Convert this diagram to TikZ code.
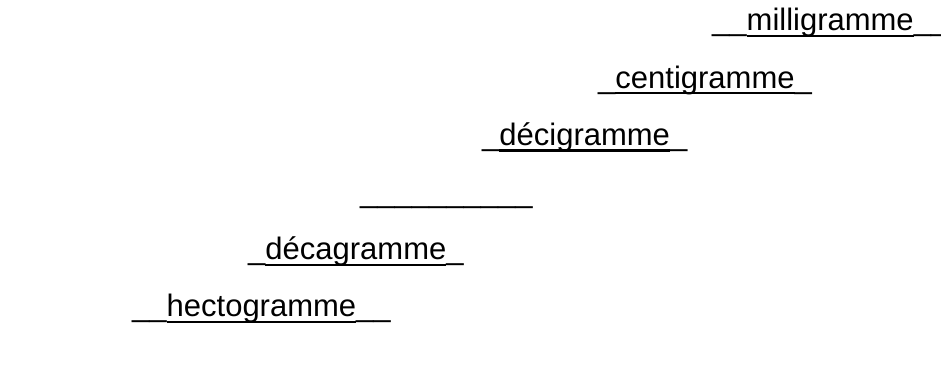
\documentclass[tikz,border=0pt]{standalone}
\usepackage{fontspec}
\setmainfont{Liberation Sans}

% underline at the height of the underscore glyph
\newsavebox{\wordbox}
\newcommand{\underword}[1]{\sbox{\wordbox}{#1}\rlap{\rule[-0.199em]{\wd\wordbox}{0.071em}}\usebox{\wordbox}}

\tikzset{
  unitline/.style={anchor=base west, inner sep=0pt, font=\fontsize{31bp}{37bp}\selectfont}
}

\begin{document}
\begin{tikzpicture}[x=1bp,y=-1bp]
      \useasboundingbox (0,0) rectangle (941,376);

        \node[unitline] (milli) at (712,30.9) {\_\_\underword{milligramme}\_\_};
        \node[unitline] (centi) at (598,88.1) {\_\underword{centigramme}\_};
        \node[unitline] (deci) at (482,145.4) {\_\underword{décigramme}\_};
        \node[unitline] (unit) at (360,202.5) {\_\_\_\_\_\_\_\_\_\_};
        \node[unitline] (deca) at (248,259.7) {\_\underword{décagramme}\_};
        \node[unitline] (hecto) at (132,316.9) {\_\_\underword{hectogramme}\_\_};
      \end{tikzpicture}
\end{document}
